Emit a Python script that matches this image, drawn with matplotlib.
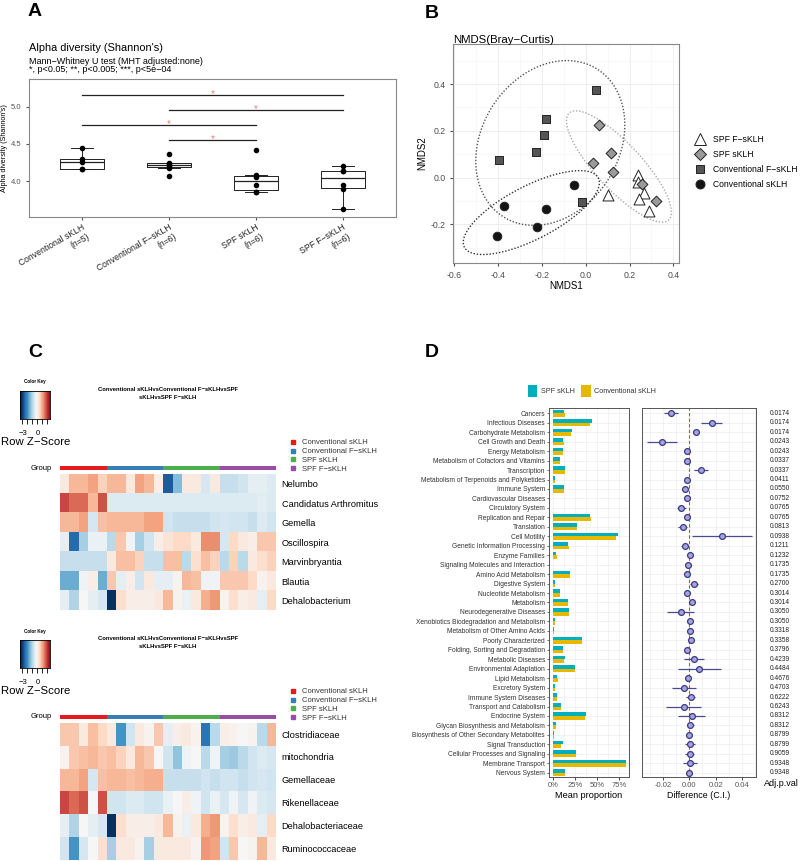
import numpy as np
import matplotlib
matplotlib.use('Agg')
import matplotlib.pyplot as plt
from matplotlib.colors import Normalize
from matplotlib.patches import Patch
from matplotlib.lines import Line2D
import matplotlib.transforms as mtrans

plt.rcParams['font.family'] = ['Liberation Sans', 'DejaVu Sans']

# ---------------- DATA ----------------
# Panel A
alpha_groups = ["Conventional sKLH\n(n=5)", "Conventional F\u2212sKLH\n(n=6)",
                "SPF sKLH\n(n=6)", "SPF F\u2212sKLH\n(n=6)"]
alpha_conv_sklh = [4.16, 4.17, 4.26, 4.30, 4.45]
alpha_conv_fsklh = [4.07, 4.18, 4.20, 4.23, 4.25, 4.36]
alpha_spf_sklh = [3.85, 3.86, 3.95, 4.05, 4.08, 4.42]
alpha_spf_fsklh = [3.63, 3.89, 3.95, 4.13, 4.14, 4.20]
sig_pairs = [(1, 4), (2, 4), (1, 3), (2, 3)]
sig_heights = [5.157, 4.95, 4.75, 4.55]

# Panel B (NMDS)
nmds_labels = ["SPF F\u2212sKLH", "SPF sKLH", "Conventional F\u2212sKLH", "Conventional sKLH"]
spf_f_x = [0.239, 0.240, 0.268, 0.243, 0.103, 0.290]
spf_f_y = [0.009, -0.017, -0.067, -0.092, -0.075, -0.142]
spf_s_x = [0.062, 0.114, 0.035, 0.126, 0.255, 0.319]
spf_s_y = [0.223, 0.103, 0.061, 0.023, -0.027, -0.098]
conv_f_x = [0.048, -0.183, -0.191, -0.227, -0.398, -0.019]
conv_f_y = [0.376, 0.250, 0.184, 0.109, 0.074, -0.105]
conv_s_x = [-0.054, -0.375, -0.183, -0.223, -0.407]
conv_s_y = [-0.033, -0.123, -0.133, -0.210, -0.248]
ellipse_level = 0.90

# Panel C heatmaps (row z-scores), 23 samples
group_names = ["Conventional sKLH", "Conventional F\u2212sKLH", "SPF sKLH", "SPF F\u2212sKLH"]
group_sizes = [5, 6, 6, 6]
genus_names = ["Nelumbo", "Candidatus Arthromitus", "Gemella", "Oscillospira",
               "Marvinbryantia", "Blautia", "Dehalobacterium"]
genus_z = [
    [0.3, 1.0, 1.0, 1.2, 0.7, 1.0, 1.0, 0.3, 1.2, 1.0, 0.2, -2.5, -1.3, 0.3, 0.3, -0.5, 0.3, -0.7, -0.7, -0.6, -0.3, -0.3, -0.4],
    [2.0, 1.7, 1.7, 1.0, 1.9, -0.42, -0.42, -0.42, -0.42, -0.42, -0.42, -0.42, -0.42, -0.42, -0.42, -0.42, -0.42, -0.42, -0.42, -0.42, -0.42, -0.35, -0.42],
    [1.0, 1.0, 1.2, -0.5, 0.9, 1.0, 1.0, 1.0, 1.0, 1.2, 1.2, -0.6, -0.7, -0.7, -0.7, -0.7, -0.6, -0.5, -0.6, -0.6, -0.7, -0.4, -0.6],
    [-0.3, -2.3, -1.0, -0.2, -0.2, -0.8, 0.8, -0.1, -1.0, -0.6, 0.2, 0.4, 0.6, 0.6, 0.3, 1.4, 1.4, -0.5, 0.6, 0.3, 0.2, 0.8, 0.8],
    [-0.7, -0.7, -0.7, -0.7, -0.7, 0.3, 0.9, 0.9, 0.7, -0.7, -0.7, 0.9, 0.9, -0.8, 0.5, 0.9, 0.7, -0.8, 0.7, -0.8, 0.3, 0.5, 0.7],
    [-1.5, -1.5, -0.1, 0.2, -1.5, 0.8, -0.3, 0.2, -0.6, 0.3, -0.3, -0.3, 0.1, 1.0, 0.9, -0.1, -0.1, 0.8, 0.8, 0.8, 0.6, 0.1, 0.3],
    [-0.3, -0.9, 0.0, -0.3, -0.5, -3.0, 0.5, 0.2, 0.2, 0.2, 0.3, 1.0, 0.1, -0.2, 0.3, 1.1, 1.3, 0.1, 0.5, 0.2, 0.3, -0.3, 0.6],
]
family_names = ["Clostridiaceae", "mitochondria", "Gemellaceae", "Rikenellaceae",
                "Dehalobacteriaceae", "Ruminococcaceae"]
family_z = [
    [0.8, 0.8, 0.3, 0.9, 0.6, 0.3, -1.8, -0.6, 0.3, 0.1, 0.8, -0.3, 0.2, 0.3, 0.1, -2.2, -0.8, 0.2, 0.1, 0.0, 0.1, -0.8, 1.0],
    [0.1, 0.8, 0.9, 1.0, 0.8, 0.9, 0.7, 0.3, 1.0, 0.8, 0.0, -0.6, -1.2, -0.1, 0.0, -0.8, -0.1, -1.0, -1.1, -0.8, -0.6, -0.4, -0.5],
    [1.0, 1.0, 1.2, -0.5, 0.9, 1.0, 1.0, 0.9, 1.0, 1.1, 1.1, -0.7, -0.7, -0.7, -0.7, -0.6, -0.7, -0.6, -0.6, -0.7, -0.6, -0.5, -0.6],
    [2.0, 1.7, 1.9, 0.0, 1.9, -0.6, -0.6, -0.4, -0.4, -0.6, -0.6, -0.2, 0.0, 0.2, -0.1, -0.6, -0.2, -0.5, -0.1, -0.5, -0.1, -0.4, -0.5],
    [-0.3, -0.9, 0.0, -0.3, -0.5, -3.0, 0.5, 0.2, 0.2, 0.2, 0.3, 1.0, 0.1, -0.2, 0.3, 1.1, 1.3, 0.1, 0.5, 0.2, 0.3, -0.3, 0.6],
    [-0.6, -1.8, -0.5, 0.0, 0.5, -1.0, 0.3, 0.3, 0.1, -1.0, 0.3, 0.3, 0.3, 0.3, 0.1, 1.3, 1.2, -0.6, 0.8, 0.0, 0.1, 1.0, 0.3],
]

# Panel D
kegg_pathways = ["Cancers", "Infectious Diseases", "Carbohydrate Metabolism", "Cell Growth and Death",
    "Energy Metabolism", "Metabolism of Cofactors and Vitamins", "Transcription",
    "Metabolism of Terpenoids and Polyketides", "Immune System", "Cardiovascular Diseases",
    "Circulatory System", "Replication and Repair", "Translation", "Cell Motility",
    "Genetic Information Processing", "Enzyme Families", "Signaling Molecules and Interaction",
    "Amino Acid Metabolism", "Digestive System", "Nucleotide Metabolism", "Metabolism",
    "Neurodegenerative Diseases", "Xenobiotics Biodegradation and Metabolism",
    "Metabolism of Other Amino Acids", "Poorly Characterized", "Folding, Sorting and Degradation",
    "Metabolic Diseases", "Environmental Adaptation", "Lipid Metabolism", "Excretory System",
    "Immune System Diseases", "Transport and Catabolism", "Endocrine System",
    "Glycan Biosynthesis and Metabolism", "Biosynthesis of Other Secondary Metabolites",
    "Signal Transduction", "Cellular Processes and Signaling", "Membrane Transport", "Nervous System"]
spf_mean = [13.0, 44.7, 21.8, 11.6, 11.6, 8.6, 14.3, 3.0, 12.4, 0.2, 0.2, 42.4, 27.4, 74.0,
            16.9, 4.1, 0.6, 19.1, 3.0, 8.3, 17.6, 18.4, 3.0, 1.9, 33.4, 11.3, 13.5, 25.5,
            5.3, 2.6, 5.3, 9.4, 37.2, 4.1, 1.9, 11.3, 26.3, 82.5, 13.9]
conv_mean = [14.0, 42.0, 20.6, 13.1, 11.6, 8.6, 13.5, 3.0, 12.4, 0.2, 0.2, 43.2, 27.8, 71.0,
             18.0, 4.5, 0.6, 19.1, 3.0, 8.3, 17.6, 18.4, 3.0, 1.9, 33.4, 11.3, 12.8, 24.8,
             5.6, 3.0, 5.3, 9.8, 36.8, 4.1, 1.9, 9.8, 26.3, 82.5, 13.9]
diff_est = [-0.0141, 0.0174, 0.0055, -0.0209, -0.0020, -0.0015, 0.0091, -0.0013, -0.0030, -0.0018,
            -0.0058, -0.0020, -0.0050, 0.0249, -0.0035, 0.0005, -0.0008, -0.0013, 0.0033, -0.0015,
            0.0020, -0.0065, 0.0003, 0.0003, 0.0015, -0.0018, 0.0038, 0.0075, -0.0005, -0.0038,
            0.0013, -0.0038, 0.0018, 0.0005, 0.0000, 0.0005, 0.0003, 0.0003, 0.0000]
diff_lo = [-0.0189, 0.0090, 0.0038, -0.0320, -0.0035, -0.0030, 0.0040, -0.0025, -0.0048, -0.0033,
           -0.0093, -0.0035, -0.0085, 0.0025, -0.0060, -0.0010, -0.0020, -0.0028, 0.0003, -0.0030,
           0.0000, -0.0164, -0.0013, -0.0013, 0.0000, -0.0038, -0.0038, -0.0088, -0.0020, -0.0128,
           -0.0023, -0.0174, -0.0088, -0.0020, -0.0015, -0.0035, -0.0028, -0.0048, -0.0020]
diff_hi = [-0.0088, 0.0252, 0.0073, -0.0091, -0.0005, 0.0000, 0.0141, 0.0003, -0.0013, -0.0003,
           -0.0023, -0.0003, -0.0015, 0.0478, -0.0010, 0.0020, 0.0005, 0.0005, 0.0065, 0.0000,
           0.0040, 0.0033, 0.0018, 0.0018, 0.0030, 0.0003, 0.0116, 0.0241, 0.0010, 0.0055,
           0.0043, 0.0091, 0.0123, 0.0033, 0.0015, 0.0045, 0.0035, 0.0058, 0.0023]
adj_p = ["0.0174", "0.0174", "0.0174", "0.0243", "0.0243", "0.0337", "0.0337", "0.0411", "0.0550",
         "0.0752", "0.0765", "0.0765", "0.0813", "0.0938", "0.1211", "0.1232", "0.1735", "0.1735",
         "0.2700", "0.3014", "0.3014", "0.3050", "0.3050", "0.3318", "0.3358", "0.3796", "0.4239",
         "0.4484", "0.4676", "0.4703", "0.6222", "0.6243", "0.8312", "0.8312", "0.8799", "0.8799",
         "0.9059", "0.9348", "0.9348"]

# ---------------- FIGURE ----------------
W, H = 800, 861
fig = plt.figure(figsize=(8, 8.61), dpi=100)


def ax_px(x0, y0, x1, y1):
    return fig.add_axes([x0 / W, 1 - y1 / H, (x1 - x0) / W, (y1 - y0) / H])


def ftext(x, y, s, **kw):
    kw.setdefault('va', 'center')
    return fig.text(x / W, 1 - y / H, s, **kw)


for lab, (x, y) in zip("ABCD", [(28, 12), (425, 13), (28, 353), (425, 353)]):
    ftext(x, y, lab, fontsize=14, fontweight='bold', ha='left')

# ---------------- Panel A ----------------
axA = ax_px(29, 79, 396, 217)
alpha_data = [alpha_conv_sklh, alpha_conv_fsklh, alpha_spf_sklh, alpha_spf_fsklh]
pos = np.arange(1, 5)
axA.boxplot(alpha_data, positions=pos, widths=0.5, showfliers=False, whis=1.5,
            capwidths=0.25,
            boxprops=dict(color='#222222', lw=0.7),
            whiskerprops=dict(color='#222222', lw=0.7),
            capprops=dict(color='#222222', lw=0.7),
            medianprops=dict(color='#222222', lw=0.9))
for p, vals in zip(pos, alpha_data):
    axA.scatter([p] * len(vals), vals, s=9, color='black', zorder=3)
for (a, b), h in zip(sig_pairs, sig_heights):
    axA.plot([a, b], [h, h], color='#222222', lw=0.9)
    axA.text((a + b) / 2, h + 0.012, '*', color='#e8806a', fontsize=7, ha='center', va='center')
axA.set_xlim(0.39, 4.61)
axA.set_ylim(3.52, 5.37)
axA.set_yticks([4.0, 4.5, 5.0])
axA.set_yticklabels(['4.0', '4.5', '5.0'])
axA.set_xticks(pos)
axA.set_xticklabels(alpha_groups, rotation=30, ha='right', rotation_mode='anchor',
                    multialignment='right', fontsize=6.2, color='#222222')
axA.tick_params(axis='y', labelsize=5.5, labelcolor='#555555', length=2, color='#555555')
axA.tick_params(axis='x', length=2, color='#555555', pad=2)
for s in axA.spines.values():
    s.set_color('#888888')
    s.set_linewidth(0.8)
axA.set_ylabel("Alpha diversity (Shannon's)", fontsize=5.2)
axA.yaxis.set_label_coords(-21 / 367, 0.5)
ftext(29, 48, "Alpha diversity (Shannon's)", fontsize=7.9, ha='left')
ftext(29, 61.5, "Mann\u2212Whitney U test (MHT adjusted:none)", fontsize=6.5, ha='left')
ftext(29, 70, "*, p<0.05; **, p<0.005; ***, p<5e\u221204", fontsize=6.5, ha='left')

# ---------------- Panel B ----------------
axB = ax_px(453, 44, 679, 263)
axB.set_xlim(-0.606, 0.426)
axB.set_ylim(-0.365, 0.571)
axB.set_xticks([-0.6, -0.4, -0.2, 0.0, 0.2, 0.4])
axB.set_yticks([-0.2, 0.0, 0.2, 0.4])
axB.set_xticks([-0.5, -0.3, -0.1, 0.1, 0.3], minor=True)
axB.set_yticks([-0.3, -0.1, 0.1, 0.3, 0.5], minor=True)
axB.grid(True, which='major', color='#ebebeb', lw=0.6)
axB.grid(True, which='minor', color='#f4f4f4', lw=0.4)
axB.set_axisbelow(True)
axB.tick_params(which='minor', length=0)
axB.tick_params(which='major', labelsize=6.3, labelcolor='#4d4d4d', length=2, color='#4d4d4d')
axB.set_xticklabels(['-0.6', '-0.4', '-0.2', '0.0', '0.2', '0.4'])
axB.set_yticklabels(['-0.2', '0.0', '0.2', '0.4'])
for s in axB.spines.values():
    s.set_color('#888888')
    s.set_linewidth(0.8)
axB.set_xlabel("NMDS1", fontsize=7, labelpad=1)
axB.set_ylabel("NMDS2", fontsize=7, labelpad=2)
ftext(453, 40, "NMDS(Bray\u2212Curtis)", fontsize=8.2, ha='left')

r_el = np.sqrt(-2 * np.log(1 - ellipse_level))


def ellipse(x, y):
    x = np.asarray(x)
    y = np.asarray(y)
    cov = np.cov(x, y)
    vals, vecs = np.linalg.eigh(cov)
    t = np.linspace(0, 2 * np.pi, 240)
    circ = np.stack([np.cos(t), np.sin(t)])
    pts = vecs @ (np.sqrt(vals)[:, None] * circ) * r_el
    return x.mean() + pts[0], y.mean() + pts[1]


groupsB = [
    (spf_f_x, spf_f_y, '^', 'white', 62, '#ffffff'),
    (spf_s_x, spf_s_y, 'D', '#9a9a9a', 30, '#aaaaaa'),
    (conv_f_x, conv_f_y, 's', '#555555', 34, '#555555'),
    (conv_s_x, conv_s_y, 'o', '#141414', 38, '#333333'),
]
handlesB = []
for (gx, gy, mk, fc, sz, ec_el), lab in zip(groupsB, nmds_labels):
    ex, ey = ellipse(gx, gy)
    axB.plot(ex, ey, ls=(0, (1, 1.3)), color=ec_el, lw=1.0, zorder=2)
for (gx, gy, mk, fc, sz, ec_el), lab in zip(groupsB, nmds_labels):
    axB.scatter(gx, gy, marker=mk, s=sz, facecolor=fc, edgecolor='#222222', linewidth=0.7, zorder=3)
    handlesB.append(Line2D([], [], marker=mk, ls='', markerfacecolor=fc, markeredgecolor='#222222',
                           markeredgewidth=0.7, markersize=np.sqrt(sz) * 1.05, label=lab))
fig.legend(handles=handlesB, loc='upper left', bbox_to_anchor=(695 / W, 1 - 135 / H),
           frameon=False, fontsize=6.2, labelspacing=0.7, handletextpad=0.9, handlelength=1.2,
           borderaxespad=0, borderpad=0)

# ---------------- Panel C ----------------
cmap = plt.get_cmap('RdBu_r')
norm = Normalize(vmin=-3, vmax=3)
set1 = ['#E41A1C', '#377EB8', '#4DAF4A', '#984EA3']
col_colors = []
for c, n in zip(set1, group_sizes):
    col_colors += [matplotlib.colors.to_rgb(c)] * n
col_colors = np.array(col_colors)[None, :, :]


def heat_block(y_key, y_group, y0, y1, names, z):
    # color key
    kax = ax_px(20, y_key, 50, y_key + 28)
    grad = np.linspace(-3.33, 2.67, 200)[None, :]
    kax.imshow(grad, aspect='auto', cmap=cmap, norm=norm, extent=[-3.33, 2.67, 0, 1])
    kax.set_yticks([])
    kax.set_xticks([-3, -2, -1, 0, 1, 2])
    kax.set_xticklabels([])
    kax.tick_params(axis='x', length=3.5, width=0.6)
    for s in kax.spines.values():
        s.set_linewidth(0.6)
    ftext(35, y_key - 9, "Color Key", fontsize=3.3, fontweight='bold', ha='center')
    ftext(23, y_key + 42.5, "\u22123", fontsize=5.5, ha='center')
    ftext(38, y_key + 42.5, "0", fontsize=5.5, ha='center')
    ftext(35.5, y_key + 51, "Row Z\u2212Score", fontsize=8.2, ha='center')
    ftext(168, y_key - 2, "Conventional sKLHvsConventional F\u2212sKLHvsSPF", fontsize=4.2,
          fontweight='bold', ha='center')
    ftext(168, y_key + 6.5, "sKLHvsSPF F\u2212sKLH", fontsize=4.2, fontweight='bold', ha='center')
    # group bar
    gax = ax_px(60, y_group - 1.6, 276, y_group + 1.6)
    gax.imshow(col_colors, aspect='auto', interpolation='nearest')
    gax.axis('off')
    ftext(52, y_group, "Group", fontsize=5.5, ha='right')
    # heatmap
    hax = ax_px(60, y0, 276, y1)
    hax.imshow(np.array(z), aspect='auto', cmap=cmap, norm=norm, interpolation='nearest')
    hax.set_xticks([])
    hax.yaxis.tick_right()
    hax.set_yticks(np.arange(len(names)))
    hax.set_yticklabels(names, fontsize=6.6)
    hax.tick_params(axis='y', length=0, pad=4)
    for s in hax.spines.values():
        s.set_visible(False)
    # group legend
    hs = [Line2D([], [], marker='s', ls='', color=c, markersize=3.2, label=l)
          for c, l in zip(set1, group_names)]
    fig.legend(handles=hs, loc='upper left', bbox_to_anchor=(290 / W, 1 - (y_group - 29) / H),
               frameon=False, fontsize=5.5, labelspacing=0.2, handletextpad=0.7,
               handlelength=0.9, borderaxespad=0, borderpad=0, labelcolor='#333333')


heat_block(391, 468, 474, 610.5, genus_names, genus_z)
heat_block(640, 717, 722.7, 859.5, family_names, family_z)

# ---------------- Panel D ----------------
n = len(kegg_pathways)
yy = np.arange(n)
teal, gold = '#00AFBB', '#E7B800'
axD1 = ax_px(549, 408, 629, 777)
axD1.barh(yy - 0.19, spf_mean, height=0.38, color=teal, zorder=3)
axD1.barh(yy + 0.19, conv_mean, height=0.38, color=gold, zorder=3)
axD1.set_ylim(38.45, -0.56)
axD1.set_xlim(-4.2, 85.9)
axD1.set_xticks([0, 25, 50, 75])
axD1.set_xticklabels(['0%', '25%', '50%', '75%'])
axD1.set_xticks([12.5, 37.5, 62.5], minor=True)
axD1.set_yticks(yy)
axD1.set_yticklabels(kegg_pathways, fontsize=4.8, color='#333333')
axD1.grid(True, which='both', color='#ededed', lw=0.5)
axD1.set_axisbelow(True)
axD1.tick_params(axis='y', length=1.8, width=0.5, pad=1, color='#333333')
axD1.tick_params(axis='x', which='major', labelsize=5.5, labelcolor='#555555', length=1.8,
                 width=0.5, pad=1.5)
axD1.tick_params(which='minor', length=0)
for s in axD1.spines.values():
    s.set_color('#555555')
    s.set_linewidth(0.7)
axD1.set_xlabel("Mean proportion", fontsize=6.6, labelpad=2)

axD2 = ax_px(642, 408, 756, 777)
axD2.set_ylim(38.45, -0.56)
axD2.set_xlim(-0.0357, 0.0506)
err = [np.array(diff_est) - np.array(diff_lo), np.array(diff_hi) - np.array(diff_est)]
axD2.axvline(0, color='#c0504d', lw=0.8, ls=(0, (3, 2)), zorder=2)
axD2.errorbar(diff_est, yy, xerr=err, fmt='o', color='#4a4a8e', ecolor='#4a4a8e', elinewidth=0.9,
              capsize=0, markersize=4.2, markerfacecolor='#a5a5d8', markeredgecolor='#3a3a8a',
              markeredgewidth=0.9, zorder=3)
axD2.set_xticks([-0.02, 0.0, 0.02, 0.04])
axD2.set_xticklabels(['-0.02', '0.00', '0.02', '0.04'])
axD2.set_xticks([-0.03, -0.01, 0.01, 0.03, 0.05], minor=True)
axD2.set_yticks(yy)
axD2.set_yticklabels([])
axD2.grid(True, which='both', color='#ededed', lw=0.5)
axD2.set_axisbelow(True)
axD2.tick_params(axis='y', length=0)
axD2.tick_params(axis='x', which='major', labelsize=5.5, labelcolor='#555555', length=1.8,
                 width=0.5, pad=1.5)
axD2.tick_params(which='minor', length=0)
for s in axD2.spines.values():
    s.set_color('#555555')
    s.set_linewidth(0.7)
axD2.set_xlabel("Difference (C.I.)", fontsize=6.4, labelpad=2)

tr = mtrans.blended_transform_factory(fig.transFigure, axD2.transData)
for yv, p in zip(yy, adj_p):
    fig.text(770 / W, yv, p, transform=tr, fontsize=4.8, ha='left', va='center', color='#222222')
ftext(764, 784, "Adj.p.val", fontsize=6.5, ha='left')

hD = [Patch(facecolor=teal, label='SPF sKLH'), Patch(facecolor=gold, label='Conventional sKLH')]
fig.legend(handles=hD, loc='center', bbox_to_anchor=(592 / W, 1 - 391 / H), ncol=2, frameon=False,
           fontsize=5.2, handlelength=1.3, handleheight=2.0, handletextpad=0.5, columnspacing=0.9,
           borderaxespad=0, borderpad=0, labelcolor='#333333')

fig.savefig('out.png', dpi=100)
